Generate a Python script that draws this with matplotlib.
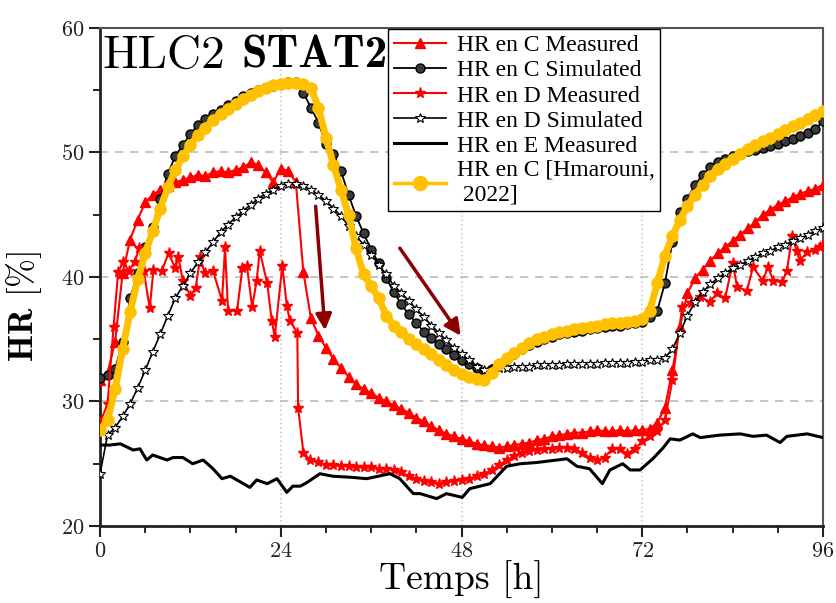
import numpy as np
import matplotlib
matplotlib.use("Agg")
import matplotlib.pyplot as plt

plt.rcParams['mathtext.fontset'] = 'cm'
plt.rcParams['axes.formatter.use_mathtext'] = True

# hourly time axis for the smooth series
hours = np.arange(0, 97)

hr_c_measured = [31.7, 32.3, 34.8, 40.3, 43.0, 44.6, 46.0, 46.6, 47.0, 47.3,
                 47.6, 47.8, 48.0, 48.2, 48.1, 48.4, 48.5, 48.4, 48.6, 48.8,
                 49.2, 49.0, 48.4, 47.6, 48.7, 48.5, 47.6, 40.4, 36.7, 35.3,
                 34.3, 33.4, 32.7, 32.0, 31.4, 31.0, 30.7, 30.3, 30.0, 29.7,
                 29.4, 29.1, 28.7, 28.4, 28.0, 27.7, 27.4, 27.2, 27.0, 26.8,
                 26.6, 26.5, 26.4, 26.3, 26.4, 26.5, 26.6, 26.7, 26.9, 27.0,
                 27.2, 27.3, 27.4, 27.5, 27.5, 27.6, 27.7, 27.6, 27.6, 27.7,
                 27.6, 27.7, 27.7, 27.8, 28.3, 29.5, 32.5, 36.0, 38.7, 39.9,
                 40.6, 41.3, 41.9, 42.4, 42.9, 43.4, 43.9, 44.4, 45.0, 45.4,
                 45.8, 46.1, 46.4, 46.7, 46.9, 47.1, 47.4]

hr_c_simulated = [31.9, 32.1, 32.6, 34.8, 38.3, 40.3, 42.4, 44.0, 46.3, 48.3,
                  49.7, 50.6, 51.5, 52.2, 52.7, 53.1, 53.4, 53.8, 54.1, 54.5,
                  54.8, 55.0, 55.2, 55.3, 55.5, 55.7, 55.7, 54.8, 53.6, 52.4,
                  50.7, 49.9, 48.5, 46.6, 44.9, 43.5, 42.2, 41.1, 39.9, 38.8,
                  37.8, 37.0, 36.3, 35.6, 35.1, 34.6, 34.2, 33.7, 33.3, 33.0,
                  32.7, 32.4, 32.6, 33.0, 33.4, 33.8, 34.2, 34.5, 34.8, 35.0,
                  35.2, 35.4, 35.5, 35.6, 35.7, 35.8, 35.9, 36.0, 36.1, 36.1,
                  36.2, 36.3, 36.4, 36.8, 37.3, 39.5, 42.8, 45.2, 46.3, 47.4,
                  48.2, 48.8, 49.2, 49.5, 49.7, 49.9, 50.1, 50.2, 50.4, 50.5,
                  50.7, 50.9, 51.1, 51.3, 51.6, 51.9, 52.5]

hr_d_simulated = [24.2, 27.3, 27.9, 28.8, 29.8, 31.1, 32.5, 34.0, 35.4, 36.9,
                  38.3, 39.3, 40.3, 41.2, 42.0, 42.8, 43.6, 44.2, 44.8, 45.3,
                  45.8, 46.3, 46.7, 47.0, 47.3, 47.5, 47.5, 47.3, 47.0, 46.6,
                  46.1, 45.5, 44.9, 44.1, 43.3, 42.6, 41.8, 41.0, 40.2, 39.3,
                  38.7, 38.1, 37.4, 36.8, 36.1, 35.5, 34.9, 34.3, 33.8, 33.3,
                  32.8, 32.5, 32.6, 32.7, 32.7, 32.8, 32.8, 32.8, 32.9, 32.9,
                  32.9, 32.9, 33.0, 33.0, 33.0, 33.0, 33.0, 33.1, 33.1, 33.1,
                  33.1, 33.2, 33.2, 33.3, 33.3, 33.5, 34.2, 35.5, 36.9, 38.0,
                  38.8, 39.4, 39.9, 40.3, 40.7, 41.0, 41.3, 41.6, 41.9, 42.1,
                  42.4, 42.6, 42.9, 43.1, 43.4, 43.7, 43.9]

hr_c_hmarouni = [27.7, 28.5, 31.0, 34.2, 37.2, 39.8, 41.9, 43.7, 45.5, 47.2,
                 48.6, 49.7, 50.6, 51.4, 52.0, 52.6, 53.1, 53.5, 53.9, 54.3,
                 54.6, 54.9, 55.2, 55.4, 55.5, 55.6, 55.6, 55.5, 55.2, 53.6,
                 51.2, 49.0, 47.0, 45.0, 42.3, 40.2, 39.3, 38.3, 36.9, 36.1,
                 35.6, 35.0, 34.6, 34.2, 33.8, 33.3, 32.9, 32.5, 32.2, 32.0,
                 31.8, 31.7, 32.3, 33.0, 33.5, 33.9, 34.3, 34.7, 35.0, 35.2,
                 35.4, 35.6, 35.7, 35.8, 35.9, 36.0, 36.1, 36.2, 36.3, 36.3,
                 36.4, 36.5, 36.6, 37.3, 39.5, 41.7, 43.3, 44.6, 45.7, 46.6,
                 47.4, 48.1, 48.7, 49.1, 49.5, 49.9, 50.3, 50.6, 50.9, 51.2,
                 51.5, 51.8, 52.1, 52.4, 52.7, 53.0, 53.3]

# D measured (irregular sampling)
t_d_measured = ([0, 1.0, 1.8, 2.4, 3.1, 3.8, 4.6, 5.2, 5.8, 6.6, 7.1, 8.2, 9.1,
                 10.0, 10.4, 11.0, 12.0, 12.7, 13.3, 13.9, 15.0, 16.2, 16.6,
                 17.0, 18.2, 18.9, 19.5, 20.2, 20.8, 21.2, 22.2, 22.8, 23.2,
                 24.2, 24.8, 25.2, 26.2, 26.3, 27.0, 27.9]
                + list(range(29, 76))
                + [76.0, 77.3, 78.5, 79.7, 81.0, 81.9, 83.0, 84.0, 84.6, 85.9,
                   86.7, 88.0, 88.7, 89.4, 90.6, 91.2, 91.9, 92.5, 92.9, 93.9,
                   95.0, 95.6, 96.0])
hr_d_measured = ([28.3, 29.8, 36.0, 40.4, 41.2, 40.5, 41.2, 42.3, 40.5, 37.5,
                  40.6, 40.5, 41.9, 40.7, 41.6, 39.7, 38.5, 39.1, 41.6, 40.3,
                  40.5, 38.1, 42.4, 37.3, 37.3, 40.7, 40.9, 37.6, 39.7, 42.1,
                  39.5, 36.5, 35.2, 40.9, 37.7, 36.5, 35.5, 29.5, 25.9, 25.3]
                 + [25.1, 24.9, 24.9, 24.8, 24.8, 24.7, 24.7, 24.7, 24.6, 24.6,
                    24.5, 24.3, 24.0, 23.8, 23.6, 23.5, 23.4, 23.5, 23.6, 23.7,
                    23.8, 24.0, 24.2, 24.5, 24.9, 25.3, 25.6, 25.9, 26.0, 26.1,
                    26.2, 26.2, 26.3, 26.3, 26.2, 25.9, 25.5, 25.3, 25.5, 26.2,
                    26.2, 25.8, 26.2, 26.8, 27.2, 27.6, 28.5]
                 + [31.7, 37.6, 37.9, 38.4, 38.0, 38.7, 38.3, 41.1, 39.2, 38.9,
                    40.8, 39.7, 40.8, 39.7, 39.6, 40.5, 43.3, 42.1, 41.3, 42.0,
                    42.2, 42.4, 42.6])

# E measured (no markers)
t_e_measured = [0, 1.3, 2.7, 4.4, 5.3, 6.2, 7.0, 8.9, 9.7, 11.0,
                12.3, 13.7, 15.0, 16.2, 17.3, 19.9, 20.8, 22.2, 23.5, 24.8,
                25.6, 26.6, 27.5, 29.2, 30.9, 33.6, 35.4, 38.5, 39.8, 41.6,
                42.5, 44.7, 46.0, 48.1, 49.1, 51.8, 54.0, 55.8, 58.0, 62.0,
                63.3, 65.0, 66.7, 67.7, 69.4, 70.4, 71.7, 73.4, 74.8, 75.7,
                77.0, 78.7, 79.7, 82.3, 85.0, 86.7, 88.5, 90.3, 91.2, 93.9,
                96.0]
hr_e_measured = [26.5, 26.5, 26.6, 26.1, 26.2, 25.3, 25.7, 25.3, 25.5, 25.5,
                 25.0, 25.3, 24.6, 23.8, 24.0, 23.1, 23.7, 23.4, 23.8, 22.7,
                 23.2, 23.2, 23.5, 24.2, 24.0, 23.9, 23.8, 24.2, 23.8, 22.6,
                 22.6, 22.2, 22.6, 22.3, 23.0, 23.4, 24.8, 25.0, 25.1, 25.4,
                 24.8, 24.6, 23.4, 24.5, 25.0, 24.5, 24.5, 25.4, 26.3, 27.0,
                 26.9, 27.4, 27.1, 27.3, 27.4, 27.2, 27.3, 26.7, 27.2, 27.4,
                 27.1]

# annotation arrows (start, tip) in data units
arrows = [((28.6, 45.9), (29.9, 35.5)),
          ((39.6, 42.5), (48.1, 35.1))]

fig = plt.figure(figsize=(8.37, 6.03), dpi=100)
ax = fig.add_axes([0.1195, 0.1277, 0.8638, 0.8259])

ax.plot(hours, hr_c_measured, color='red', lw=1.5, marker='^', ms=7.5,
        label='HR en C Measured', zorder=3)
ax.plot(hours, hr_c_simulated, color='black', lw=1.3, marker='o', ms=6.5,
        mfc='#3a3a3a', mec='black', label='HR en C Simulated', zorder=3)
ax.plot(t_d_measured, hr_d_measured, color='red', lw=1.5, marker='*', ms=8,
        label='HR en D Measured', zorder=3)
ax.plot(hours, hr_d_simulated, color='black', lw=1.2, marker='*', ms=7,
        mfc='white', mec='black', mew=0.8, label='HR en D Simulated', zorder=3)
ax.plot(t_e_measured, hr_e_measured, color='black', lw=2.2,
        label='HR en E Measured', zorder=3)
ax.plot(hours, hr_c_hmarouni, color='#FFC000', lw=5, marker='o', ms=8,
        label='HR en C [Hmarouni,\n 2022]', zorder=4)

for start, tip in arrows:
    ax.annotate('', xy=tip, xytext=start,
                arrowprops=dict(arrowstyle='-|>', color='#8B0000', lw=2.5,
                                mutation_scale=24), zorder=5)

ax.set_xlim(0, 96)
ax.set_ylim(20, 60)
ax.set_xticks([0, 24, 48, 72, 96])
ax.set_xticks(np.arange(0, 97, 6), minor=True)
ax.set_yticks([20, 30, 40, 50, 60])
ax.set_yticks(np.arange(20, 61, 5), minor=True)
ax.tick_params(which='major', direction='out', length=8, width=1.5,
               labelsize=16, colors='#222222')
ax.tick_params(which='minor', direction='out', length=5, width=1.2)
for lab in ax.get_xticklabels() + ax.get_yticklabels():
    lab.set_fontfamily('cmr10')

ax.grid(axis='y', which='major', color='#bbbbbb', ls=(0, (5, 4)), lw=1.2)
ax.grid(axis='x', which='major', color='#cccccc', ls=':', lw=1.2)
ax.set_axisbelow(True)

for side in ['left', 'bottom']:
    ax.spines[side].set_linewidth(2)
    ax.spines[side].set_color('#222222')
for side in ['top', 'right']:
    ax.spines[side].set_linewidth(1.5)
    ax.spines[side].set_color('#555555')

ax.set_xlabel('Temps [h]', fontfamily='cmr10', fontsize=27)
ax.xaxis.set_label_coords(0.5, -0.07, transform=ax.transAxes)
ax.xaxis.label.set_va('top')
ax.set_ylabel(r'$\mathbf{HR}$ [%]', fontfamily='cmr10', fontsize=25)
ax.yaxis.set_label_coords(-0.077, 0.44)

# title inside the plot
ax.text(0.004, 0.92, 'HLC2', transform=ax.transAxes, fontfamily='cmr10',
        fontsize=34, va='baseline', ha='left', zorder=6)
ax.text(0.196, 0.92, 'STAT2', transform=ax.transAxes, fontfamily='cmb10',
        fontsize=33, va='baseline', ha='left', zorder=6)

leg = ax.legend(loc='upper left', bbox_to_anchor=(0.4636, 0.952),
                bbox_transform=fig.transFigure,
                prop={'family': 'Liberation Serif', 'size': 17},
                frameon=True, fancybox=False, framealpha=1, edgecolor='black',
                handlelength=2.2, handletextpad=0.45, labelspacing=0.15,
                borderpad=0.25, borderaxespad=0)
leg.get_frame().set_linewidth(1.0)
leg.get_lines()[5].set_linewidth(2.5)
leg.get_lines()[5].set_markersize(10)
leg.set_zorder(7)

fig.savefig('out.png', dpi=100)
